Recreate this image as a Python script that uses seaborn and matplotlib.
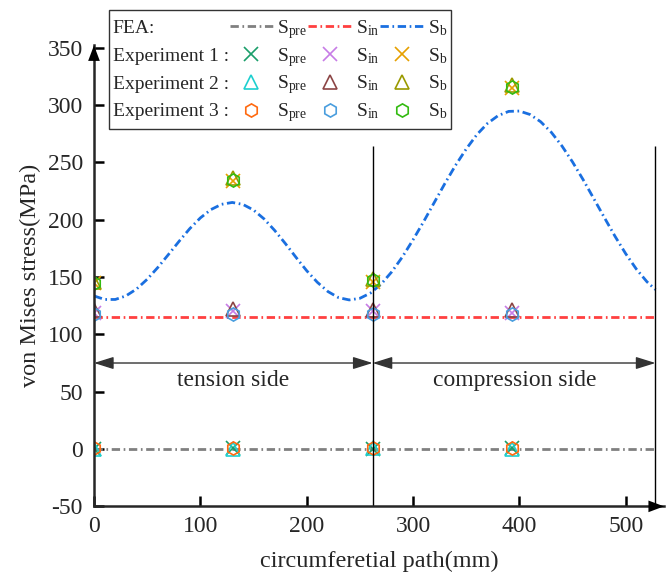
"""
von Mises stress along the circumferential path: FEA curves vs three experiments
"""

import matplotlib
matplotlib.use("Agg")
import matplotlib.pyplot as plt
from matplotlib.lines import Line2D
import seaborn as sns

# FEA results
fea_x_flat = [0, 528]
fea_pre = [0, 0]
fea_in = [115, 115]

fea_x_b = [0, 10, 20, 30, 40, 50, 60, 70, 80, 90, 100, 110, 120, 130,
           140, 150, 160, 170, 180, 190, 200, 210, 220, 230, 240,
           250, 260, 270, 280, 290, 300, 310, 320, 330, 340, 350, 360,
           370, 380, 390, 400, 410, 420, 430, 440, 450, 460, 470, 480,
           490, 500, 510, 520, 528]
fea_b = [133.5, 130.4, 130.4, 133.5, 139.5, 148.0, 158.3, 169.6, 181.1,
         192.1, 201.5, 208.8, 213.4, 215.0,
         213.3, 208.4, 200.6, 190.5, 179.1, 167.1, 155.5, 145.4, 137.3,
         132.0, 130.0,
         131.4, 136.0, 143.8, 154.5, 167.5, 182.4, 198.3, 215.0, 231.6,
         247.4, 261.6, 274.1, 283.9, 290.7, 294.4, 294.7, 291.7, 285.4,
         276.2, 264.3, 250.3, 234.8, 218.3, 201.7, 185.4, 170.3, 156.9,
         145.8, 139.0]

# experiments, measured at four points of the path
exp_x = [0, 131, 262, 393]
exp1_pre = [0.3, 0.5, 0.4, 0.6]
exp1_in = [119, 120, 120, 119]
exp1_b = [145, 234, 146, 315]
exp2_pre = [0.4, 0.2, 0.5, 0.3]
exp2_in = [121, 122, 121, 121]
exp2_b = [146, 236, 148, 317]
exp3_pre = [0.5, 0.7, 0.6, 0.8]
exp3_in = [118, 118, 118, 118]
exp3_b = [145, 235, 147, 316]

x_ticks = [0, 100, 200, 300, 400, 500]
y_ticks = [-50, 0, 50, 100, 150, 200, 250, 300, 350]

sns.set_theme(style="ticks")
plt.rcParams["font.family"] = ["Liberation Serif", "DejaVu Serif"]
plt.rcParams["mathtext.fontset"] = "custom"
plt.rcParams["mathtext.rm"] = "Liberation Serif"
plt.rcParams["mathtext.it"] = "Liberation Serif:italic"
plt.rcParams["axes.unicode_minus"] = False

fig = plt.figure(figsize=(6.68, 5.76), dpi=100)
ax = fig.add_axes([0.1407, 0.1209, 0.8533, 0.8004])

dash = (0, (3, 1.3, 0.6, 1.3))
lw = 2.0
sns.lineplot(x=fea_x_flat, y=fea_pre, ax=ax, color="#808080", lw=lw, linestyle=dash)
sns.lineplot(x=fea_x_flat, y=fea_in, ax=ax, color="#ff4040", lw=lw, linestyle=dash)
sns.lineplot(x=fea_x_b, y=fea_b, ax=ax, color="#1a6fe0", lw=lw, linestyle=dash)

series = [
    (exp1_pre, "x", "#1a9e6a"), (exp1_in, "x", "#c77ce6"), (exp1_b, "x", "#e6a000"),
    (exp2_pre, "^", "#1ecfcf"), (exp2_in, "^", "#8c4545"), (exp2_b, "^", "#9a9a00"),
    (exp3_pre, "h", "#ff6a10"), (exp3_in, "h", "#4a9ede"), (exp3_b, "h", "#33bb11"),
]
for vals, mk, col in series:
    sns.lineplot(x=exp_x, y=vals, ax=ax, linestyle="none", marker=mk, ms=9.5,
                 mfc="none", mec=col, mew=1.2, color=col)

ax.set_xlim(0, 536)
ax.set_ylim(-50, 352)
ax.set_xticks(x_ticks)
ax.set_yticks(y_ticks)

# tension / compression zones
ax.vlines([262, 528], -50, 264, color="black", lw=1)
arrow_kw = dict(arrowstyle="<|-|>,head_length=0.8,head_width=0.25",
                color="#333333", lw=1, shrinkA=0, shrinkB=0, mutation_scale=15)
ax.annotate("", xy=(0, 75), xytext=(262, 75), arrowprops=arrow_kw)
ax.annotate("", xy=(262, 75), xytext=(528, 75), arrowprops=arrow_kw)
ax.text(131, 60, "tension side", ha="center", va="center", fontsize=17)
ax.text(396, 60, "compression side", ha="center", va="center", fontsize=17)

# spines with arrow heads
sns.despine(ax=ax)
for s in ["left", "bottom"]:
    ax.spines[s].set_linewidth(1.8)
head = dict(arrowstyle="-|>,head_length=0.8,head_width=0.3", color="black",
            lw=0, mutation_scale=14, shrinkA=0, shrinkB=0)
ax.annotate("", xy=(0, 1.0), xytext=(0, 0.97), xycoords="axes fraction",
            arrowprops=head, annotation_clip=False)
ax.annotate("", xy=(1.0, 0), xytext=(0.97, 0), xycoords="axes fraction",
            arrowprops=head, annotation_clip=False)

ax.tick_params(direction="in", length=7, width=1.8, labelsize=17, color="black")
ax.tick_params(axis="y", pad=8)
ax.tick_params(axis="x", pad=7)
ax.set_xlabel("circumferetial path(mm)", fontsize=17.5, labelpad=10)
ax.set_ylabel("von Mises stress(MPa)", fontsize=17.5, labelpad=5)

# legend laid out as a table: row label, then S_pre / S_in / S_b
blank = lambda lab: Line2D([], [], ls="none", label=lab)
pre_lab, in_lab, b_lab = r"S$_{\rm pre}$", r"S$_{\rm in}$", r"S$_{\rm b}$"
handles = [blank("FEA:"), blank("Experiment 1 :"), blank("Experiment 2 :"), blank("Experiment 3 :")]
handles += [Line2D([], [], color="#808080", lw=lw, ls=dash, label=pre_lab)]
handles += [Line2D([], [], ls="none", marker=series[i][1], ms=9.5, mfc="none",
                   mec=series[i][2], mew=1.2, label=pre_lab) for i in (0, 3, 6)]
handles += [Line2D([], [], color="#ff4040", lw=lw, ls=dash, label=in_lab)]
handles += [Line2D([], [], ls="none", marker=series[i][1], ms=9.5, mfc="none",
                   mec=series[i][2], mew=1.2, label=in_lab) for i in (1, 4, 7)]
handles += [Line2D([], [], color="#1a6fe0", lw=lw, ls=dash, label=b_lab)]
handles += [Line2D([], [], ls="none", marker=series[i][1], ms=9.5, mfc="none",
                   mec=series[i][2], mew=1.2, label=b_lab) for i in (2, 5, 8)]

leg = ax.legend(handles=handles, ncol=4, loc="upper left",
                bbox_to_anchor=(0.026, 1.077), fontsize=14, frameon=True,
                fancybox=False, framealpha=1, edgecolor="#333333",
                handlelength=2.2, handletextpad=0.25, columnspacing=0.05,
                labelspacing=0.0, borderpad=0.2, borderaxespad=0)
leg.get_frame().set_linewidth(1)
# same row height in every column, and no handle in the row-label column
for c, col in enumerate(leg._legend_handle_box.get_children()):
    for row in col.get_children():
        hbox = row.get_children()[0]
        hbox.ydescent = 6
        hbox.height = 20
        if c == 0:
            hbox.width = 0
            row.sep = 0

fig.savefig("out.png", dpi=100)
